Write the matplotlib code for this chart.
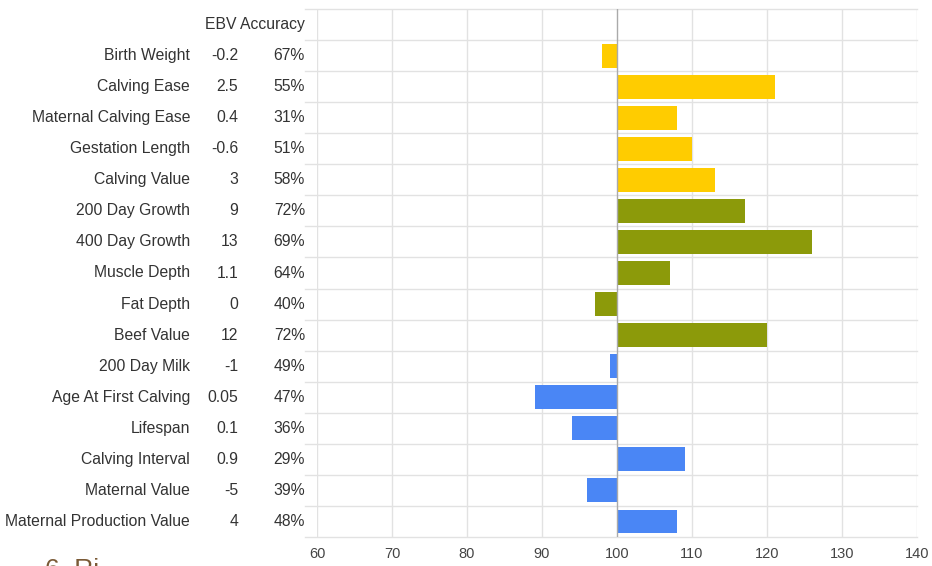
import matplotlib
matplotlib.use("Agg")
import matplotlib.pyplot as plt
import matplotlib.transforms as mtransforms

traits = ["Birth Weight", "Calving Ease", "Maternal Calving Ease", "Gestation Length",
          "Calving Value", "200 Day Growth", "400 Day Growth", "Muscle Depth",
          "Fat Depth", "Beef Value", "200 Day Milk", "Age At First Calving",
          "Lifespan", "Calving Interval", "Maternal Value", "Maternal Production Value"]
ebv = ["-0.2", "2.5", "0.4", "-0.6", "3", "9", "13", "1.1", "0", "12", "-1", "0.05",
       "0.1", "0.9", "-5", "4"]
accuracy = ["67%", "55%", "31%", "51%", "58%", "72%", "69%", "64%", "40%", "72%",
            "49%", "47%", "36%", "29%", "39%", "48%"]
index_values = [98, 121, 108, 110, 113, 117, 126, 107, 97, 120, 99, 89, 94, 109, 96, 108]
groups = ["calving"] * 5 + ["growth"] * 5 + ["maternal"] * 6
baseline = 100
x_ticks = [60, 70, 80, 90, 100, 110, 120, 130, 140]

group_colors = {"calving": "#FFCC00", "growth": "#8C9A0A", "maternal": "#4A86F5"}

plt.rcParams['font.family'] = ['Liberation Sans', 'DejaVu Sans']

W, H = 932, 566
fig = plt.figure(figsize=(W / 100, H / 100), dpi=100)
ax = fig.add_axes([317 / W, 1 - 537 / H, 600 / W, 528 / H])

n = len(traits)
ys = list(range(1, n + 1))
widths = [v - baseline for v in index_values]
colors = [group_colors[g] for g in groups]
ax.barh(ys, widths, left=baseline, height=0.77, color=colors, zorder=3)

ax.set_xlim(60, 140)
ax.set_ylim(n + 0.5, -0.5)
ax.set_xticks(x_ticks)
ax.set_yticks([])
for s in ax.spines.values():
    s.set_visible(False)
ax.tick_params(axis='x', length=0, pad=7, labelsize=10.5, labelcolor="#444444")
for xt in x_ticks:
    ax.axvline(xt, color="#AAAAAA" if xt == baseline else "#E2E2E2",
               lw=1.0, zorder=1 if xt != baseline else 4)

# row separators
trans_row = mtransforms.blended_transform_factory(ax.transAxes, ax.transData)
for b in [i - 0.5 for i in range(n + 2)]:
    ax.plot([-0.02, 1.0], [b, b], color="#E2E2E2", lw=1.0, transform=trans_row,
            clip_on=False, zorder=1)

trans = mtransforms.blended_transform_factory(fig.transFigure, ax.transData)
txt_color = "#333333"
fs = 11.3
ax.text(305 / W, 0, "EBV Accuracy", transform=trans, ha="right", va="center",
        fontsize=fs, color=txt_color)
for y, t, e, a in zip(ys, traits, ebv, accuracy):
    ax.text(190 / W, y, t, transform=trans, ha="right", va="center", fontsize=fs, color=txt_color)
    ax.text(238 / W, y, e, transform=trans, ha="right", va="center", fontsize=fs, color=txt_color)
    ax.text(305 / W, y, a, transform=trans, ha="right", va="center", fontsize=fs, color=txt_color)

fig.text(45 / W, -16 / H, "6. Ri", fontsize=19, color="#7A5A36", ha="left", va="bottom")

fig.savefig("out.png", dpi=100)
